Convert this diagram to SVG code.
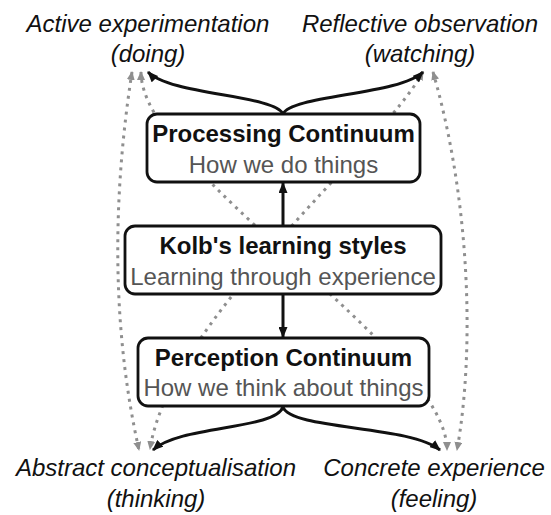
<svg xmlns="http://www.w3.org/2000/svg" width="551" height="515" viewBox="0 0 551 515">
<style>
.lbl{font-family:"Liberation Sans",Arial,sans-serif;font-size:24px;font-style:italic;fill:#111;text-anchor:middle}
.ttl{font-family:"Liberation Sans",Arial,sans-serif;font-size:24px;font-weight:bold;fill:#111;text-anchor:middle}
.sub{font-family:"Liberation Sans",Arial,sans-serif;font-size:24px;fill:#555;text-anchor:middle}
.box{fill:#fff;stroke:#111;stroke-width:2.8}
.solid{fill:none;stroke:#111;stroke-width:3}
.dot{fill:none;stroke:#8f8f8f;stroke-width:3;stroke-dasharray:3 5}
</style>
<defs>
<marker id="ab" markerUnits="userSpaceOnUse" markerWidth="11" markerHeight="9" refX="10" refY="4.5" orient="auto"><path d="M0,0 L11,4.5 L0,9 z" fill="#111"/></marker>
<marker id="ag" markerUnits="userSpaceOnUse" markerWidth="9" markerHeight="8" refX="8" refY="4" orient="auto-start-reverse"><path d="M0,0 L9,4 L0,8 z" fill="#8f8f8f"/></marker>
</defs>
<rect width="551" height="515" fill="#fff"/>
<g id="connectors">
<path class="dot" d="M132,72 C112,200 112,330 139,450" marker-start="url(#ag)" marker-end="url(#ag)"/>
<path class="dot" d="M433,72 C470,200 475,350 457,450" marker-start="url(#ag)" marker-end="url(#ag)"/>
<path class="dot" d="M141,72 C141,172 447,350 447,450" marker-start="url(#ag)" marker-end="url(#ag)"/>
<path class="dot" d="M423,72 C380,150 170,320 150,449" marker-start="url(#ag)" marker-end="url(#ag)"/>
<path class="solid" d="M283,114 C275,95 170,95 148,72" marker-end="url(#ab)"/>
<path class="solid" d="M283,114 C291,95 400,95 423,72" marker-end="url(#ab)"/>
<path class="solid" d="M283,226 L283,183" marker-end="url(#ab)"/>
<path class="solid" d="M283,294 L283,337" marker-end="url(#ab)"/>
<path class="solid" d="M283,407 C275,430 180,425 153,450" marker-end="url(#ab)"/>
<path class="solid" d="M283,407 C291,430 410,425 440,450" marker-end="url(#ab)"/>
</g>
<g id="processing">
<rect class="box" x="147" y="114" width="273" height="68" rx="10"/>
<text class="ttl" x="283.5" y="142">Processing Continuum</text>
<text class="sub" x="283.5" y="173">How we do things</text>
</g>
<g id="kolb">
<rect class="box" x="125" y="226" width="316" height="68" rx="10"/>
<text class="ttl" x="283" y="254">Kolb's learning styles</text>
<text class="sub" x="283" y="285">Learning through experience</text>
</g>
<g id="perception">
<rect class="box" x="138" y="338" width="291" height="68" rx="10"/>
<text class="ttl" x="283.5" y="366">Perception Continuum</text>
<text class="sub" x="283.5" y="396">How we think about things</text>
</g>
<g id="active">
<text class="lbl" x="148" y="32">Active experimentation</text>
<text class="lbl" x="148" y="62">(doing)</text>
</g>
<g id="reflective">
<text class="lbl" x="420" y="32">Reflective observation</text>
<text class="lbl" x="420" y="62">(watching)</text>
</g>
<g id="abstract">
<text class="lbl" x="156" y="476">Abstract conceptualisation</text>
<text class="lbl" x="156" y="507">(thinking)</text>
</g>
<g id="concrete">
<text class="lbl" x="434" y="476">Concrete experience</text>
<text class="lbl" x="434" y="507">(feeling)</text>
</g>
</svg>
